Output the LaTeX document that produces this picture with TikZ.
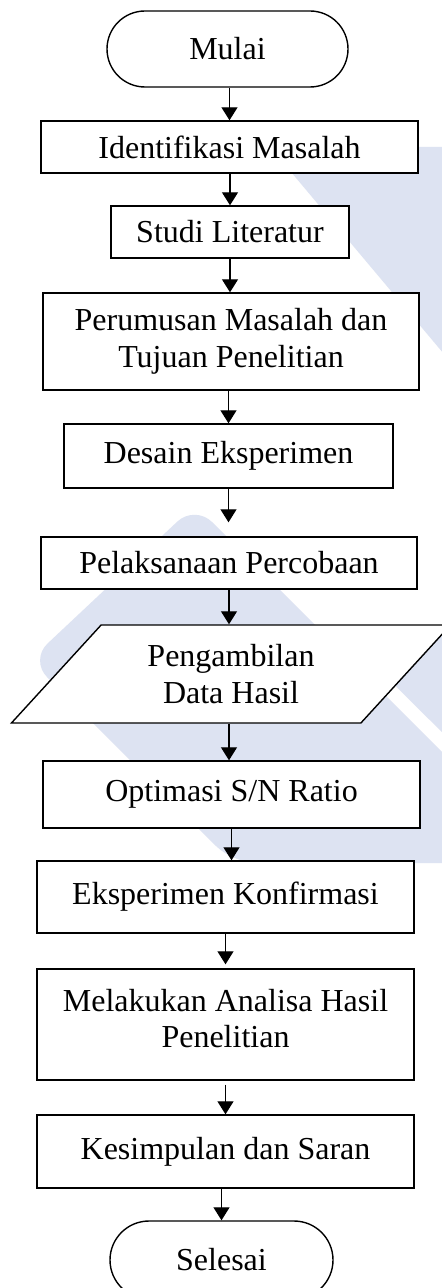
\documentclass[tikz,border=0pt]{standalone}
\usepackage{fontspec}
\setmainfont{Liberation Serif}
\usetikzlibrary{shapes.geometric,arrows.meta}
\definecolor{wmblue}{RGB}{221,227,242}

\begin{document}
\begin{tikzpicture}[x=0.5pt,y=-0.5pt,>={Triangle[width=8pt,length=6.5pt]},
    every node/.style={font=\fontsize{16}{18.3}\selectfont,align=center,inner sep=2pt},
    proc node/.style={rectangle,draw,fill=white,line width=0.7pt},
    term node/.style={rectangle,rounded corners=19pt,draw,fill=white,line width=0.7pt},
    data node/.style={trapezium,trapezium left angle=48,trapezium right angle=132,
                      trapezium stretches=true,draw,fill=white,line width=0.7pt}]

  \useasboundingbox (0,0) rectangle (441,1288);
  \fill[white] (0,0) rectangle (441,1288);

  % watermark
  \fill[wmblue,rounded corners=3pt] (270,147) -- (470,147) -- (470,385) -- cycle;
  \fill[wmblue,rounded corners=12pt] (30,660) -- (195,505) -- (470,780) -- (470,863) -- (233,863) -- cycle;
  \fill[wmblue,rounded corners=4pt] (470,599) -- (389.5,680) -- (470,760) -- cycle;

  \node[term node,minimum width=120.5pt,minimum height=38pt] (mulai) at (227.5,49) {Mulai};
  \node[proc node,minimum width=188.5pt,minimum height=26pt] (ident) at (229.5,147) {Identifikasi Masalah};
  \node[proc node,minimum width=119pt,minimum height=26pt] (studi) at (230,232) {Studi Literatur};
  \node[proc node,minimum width=188pt,minimum height=48.5pt] (rumus) at (231,341.5) {Perumusan Masalah dan\\Tujuan Penelitian};
  \node[proc node,minimum width=164.5pt,minimum height=32pt] (desain) at (228.5,456) {Desain Eksperimen};
  \node[proc node,minimum width=188pt,minimum height=26pt] (laksana) at (229,563) {Pelaksanaan Percobaan};
  \node[data node,minimum width=220pt,minimum height=49pt] (ambil) at (231,674) {Pengambilan\\Data Hasil};
  \node[proc node,minimum width=188.5pt,minimum height=33.5pt] (optim) at (231.5,794.5) {Optimasi S/N Ratio};
  \node[proc node,minimum width=188.5pt,minimum height=36pt] (konf) at (225.5,897) {Eksperimen Konfirmasi};
  \node[proc node,minimum width=188.5pt,minimum height=55.5pt] (analisa) at (225.5,1024.5) {Melakukan Analisa Hasil\\Penelitian\\[-12pt]\mbox{}};
  \node[proc node,minimum width=188.5pt,minimum height=36.5pt] (simpul) at (225.5,1151.5) {Kesimpulan dan Saran};
  \node[term node,minimum width=111.5pt,minimum height=39pt,rounded corners=19.5pt] (selesai) at (221.5,1260) {Selesai};

  \path[->,line width=0.6pt]
    (ident.north |- mulai.south) edge (ident.north)
    (studi.north |- ident.south) edge (studi.north)
    (studi.south) edge (studi.south |- rumus.north)
    (desain.north |- rumus.south) edge (desain.north)
    (desain.south) edge[shorten >=7pt] (desain.south |- laksana.north)
    (laksana.south) edge (laksana.south |- ambil.north)
    (laksana.south |- ambil.south) edge (laksana.south |- optim.north)
    (optim.south) edge (optim.south |- konf.north)
    (konf.south) edge[shorten >=2pt] (analisa.north)
    (analisa.south) edge[shorten <=2pt] (simpul.north)
    (selesai.north |- simpul.south) edge (selesai.north);
\end{tikzpicture}
\end{document}
